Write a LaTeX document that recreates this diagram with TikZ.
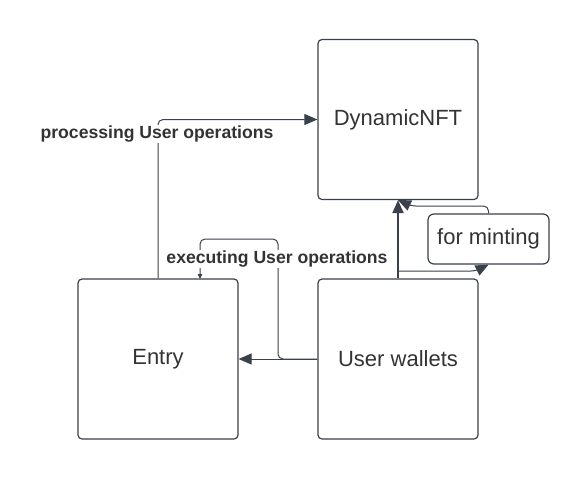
\documentclass[tikz,border=0pt]{standalone}
\usepackage{fontspec}
\setmainfont{Liberation Sans}
\usetikzlibrary{arrows.meta,positioning}
\definecolor{linegray}{HTML}{3A414A}
\definecolor{textgray}{HTML}{333333}

\begin{document}
\begin{tikzpicture}[x=1pt,y=-1pt,line width=1pt,>={Triangle[length=13pt,width=11pt]},
  block/.style={draw=linegray,line width=1.2pt,rounded corners=4pt,minimum width=160pt,
    minimum height=160pt,text=textgray,font=\fontsize{22}{26}\selectfont},
  note/.style={block,minimum width=121pt,minimum height=50pt,rounded corners=6pt},
  tag/.style={fill=white,text=textgray,inner sep=1pt,font=\bfseries\fontsize{17.6}{20}\selectfont},
  link/.style={draw=linegray,rounded corners=5pt}]
\useasboundingbox (0,0) rectangle (588,480);
% ---------- boxes ----------
\node[block] (nft) at (398,119.5) {DynamicNFT};
\node[block] (entry) at (158,359) {Entry};
\node[block] (wallets) at (398,359) {User wallets};
\node[note] (mint) at (488.5,239) {for minting};
% ---------- Entry -> DynamicNFT ----------
\draw[link,->] (entry.north) |- (nft.west);
\node[tag] (proc) at (157,134) {processing User operations};
% ---------- User wallets -> Entry ----------
\draw[link,-{Triangle[length=5pt,width=4.5pt]}] (wallets.west) -| (278,239) -| (200,279);
\draw[link,->] (wallets.west) -- (entry.east);
\node[tag] (exec) at (277,259) {executing User operations};
% ---------- User wallets -> DynamicNFT ----------
\draw[draw=linegray,line width=2pt,->] (wallets.north) -- (nft.south);
\coordinate (mintfoot) at (398,271);
\draw[link,->] (mintfoot) -- (476,271) -- (mint.south);
\draw[link,->] (mint.north) |- (411,206) -- (nft.south);
\end{tikzpicture}
\end{document}
